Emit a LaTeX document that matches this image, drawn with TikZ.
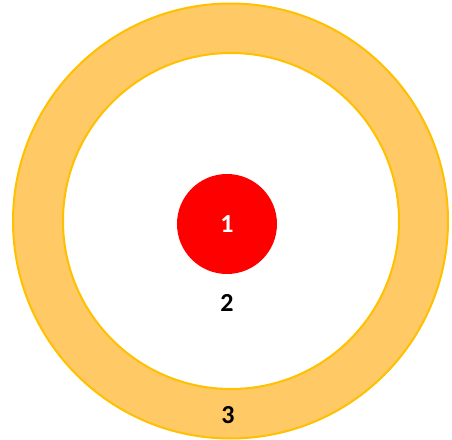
\documentclass[tikz,border=0pt]{standalone}
\usepackage{fontspec}
\setmainfont{Carlito}
\usepackage{xcolor}
\usepackage{tikz}
\usetikzlibrary{positioning}

\definecolor{ringfill}{HTML}{FFC966}
\definecolor{ringline}{HTML}{FFC000}

\begin{document}
\begin{tikzpicture}[
  x=0.5pt, y=-0.5pt,
  disc/.style={circle, draw=ringline, line width=1pt, inner sep=0pt, outer sep=0pt, minimum size=#1},
  core/.style={circle, fill=red, inner sep=0pt, minimum size=50pt},
  num/.style={font=\fontsize{13}{15}\selectfont\bfseries, text=#1},
  num/.default={black}
]
\useasboundingbox (0,0) rectangle (452,440);

% -- rings --------------------------------------------------
\node[disc=217.5pt, fill=ringfill] (outer) at (230.5,221) {};
\node[disc=168pt, fill=white]      (inner) at (231,221)   {};

% -- centre ---------------------------------------------------
\node[core] (red) at (227,224) {};
\node[num=white] (one) at (red) {1};
\node[num] (two)   at (227,303) {2};
\node[num] (three) at (228,415) {3};

\end{tikzpicture}
\end{document}
